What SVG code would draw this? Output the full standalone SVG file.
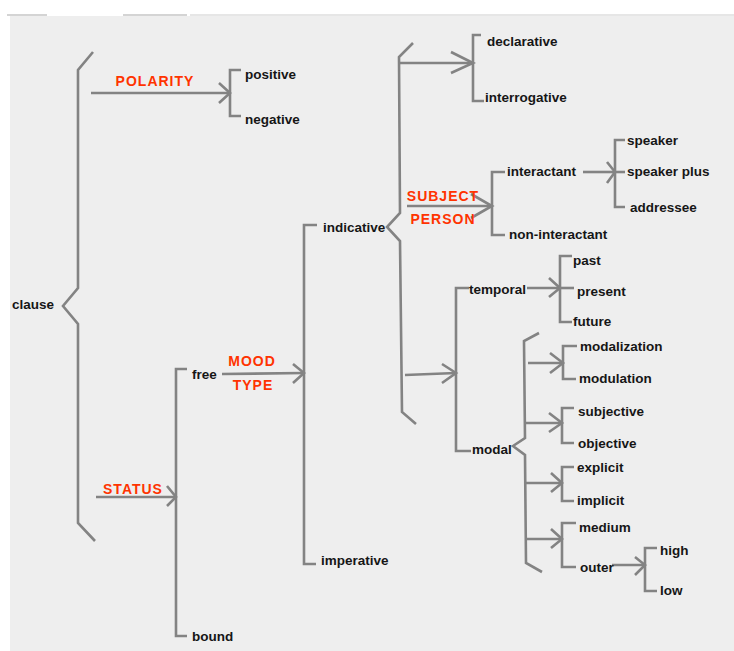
<svg xmlns="http://www.w3.org/2000/svg" width="734" height="651" viewBox="0 0 734 651">
<style>
.ln{fill:none;stroke:#838383;stroke-width:2.6;stroke-linejoin:miter;stroke-linecap:butt}
.t{font-family:"Liberation Sans",Arial,sans-serif;font-weight:bold;font-size:13.5px;fill:#161616}
.r{font-family:"Liberation Sans",Arial,sans-serif;font-weight:bold;font-size:14px;fill:#ff3300;letter-spacing:1px;text-anchor:middle}
</style>
<rect x="0" y="0" width="734" height="651" fill="#ffffff"/>
<rect x="10" y="16" width="724" height="635" fill="#eeeeee"/>
<rect x="7" y="14" width="40" height="2" fill="#d4d4d4"/>
<rect x="123" y="14" width="64" height="2" fill="#d4d4d4"/>
<rect x="190" y="14" width="544" height="2" fill="#e6e6e6"/>

<g id="connectors">
  <!-- clause brace -->
  <polyline class="ln" points="93,52 78,70 78,288 63,306 78,324 78,523 95,541"/>
  <!-- polarity -->
  <line class="ln" x1="91" y1="93" x2="230" y2="93"/>
  <polyline class="ln" points="219,83 230,93 219,103"/>
  <polyline class="ln" points="241,70 230,70 230,116 241,116"/>
  <!-- status -->
  <line class="ln" x1="96" y1="497" x2="176" y2="497"/>
  <polyline class="ln" points="167,486 176,497 167,506"/>
  <polyline class="ln" points="187,369 176,369 176,636 187,636"/>
  <!-- mood type -->
  <line class="ln" x1="222" y1="374" x2="304" y2="373"/>
  <polyline class="ln" points="293,364 304,373 293,383"/>
  <polyline class="ln" points="317,225 304,225 304,564 316,564"/>
  <!-- indicative brace -->
  <polyline class="ln" points="413,43 399,57 400,213 387,227 400,241 402,412 416,424"/>
  <!-- to declarative -->
  <line class="ln" x1="400" y1="63" x2="473" y2="63"/>
  <polyline class="ln" points="451,52 473,63 451,73"/>
  <polyline class="ln" points="481,35 473,35 473,101 484,101"/>
  <!-- subject person -->
  <line class="ln" x1="407" y1="206" x2="492" y2="206"/>
  <polyline class="ln" points="471,194 492,206 471,218"/>
  <polyline class="ln" points="505,172 492,172 492,235 505,235"/>
  <!-- interactant -->
  <line class="ln" x1="583" y1="172" x2="615" y2="172"/>
  <polyline class="ln" points="607,162 615,172 607,183"/>
  <polyline class="ln" points="625,140 615,140 615,207 625,207"/>
  <line class="ln" x1="615" y1="172" x2="625" y2="172"/>
  <!-- to temporal/modal -->
  <line class="ln" x1="405" y1="375" x2="456" y2="373"/>
  <polyline class="ln" points="442,364 456,373 442,383"/>
  <polyline class="ln" points="469,288 456,288 456,451 471,451"/>
  <!-- temporal -->
  <line class="ln" x1="527" y1="288" x2="560" y2="288"/>
  <polyline class="ln" points="549,278 560,288 549,297"/>
  <polyline class="ln" points="572,256 560,256 560,322 572,322"/>
  <line class="ln" x1="560" y1="288" x2="574" y2="288"/>
  <!-- modal brace -->
  <polyline class="ln" points="539,333 524,341 525,438 513,446 525,455 526,563 542,572"/>
  <!-- modalization -->
  <line class="ln" x1="528" y1="363" x2="563" y2="363"/>
  <polyline class="ln" points="550,353 563,363 550,373"/>
  <polyline class="ln" points="577,346 563,346 563,379 576,379"/>
  <!-- subjective -->
  <line class="ln" x1="525" y1="423" x2="562" y2="423"/>
  <polyline class="ln" points="549,413 562,423 549,432"/>
  <polyline class="ln" points="574,408 562,408 562,443 574,443"/>
  <!-- explicit -->
  <line class="ln" x1="526" y1="483" x2="562" y2="483"/>
  <polyline class="ln" points="551,473 562,483 551,492"/>
  <polyline class="ln" points="574,467 562,467 562,501 574,501"/>
  <!-- medium -->
  <line class="ln" x1="526" y1="539" x2="562" y2="539"/>
  <polyline class="ln" points="551,529 562,539 551,548"/>
  <polyline class="ln" points="576,523 562,523 562,567 576,567"/>
  <!-- outer -->
  <line class="ln" x1="612" y1="565" x2="645" y2="565"/>
  <polyline class="ln" points="635,557 645,565 635,575"/>
  <polyline class="ln" points="657,548 645,548 645,591 657,591"/>
</g>

<g id="labels">
  <text class="r" x="155" y="86">POLARITY</text>
  <text class="r" x="133" y="494">STATUS</text>
  <text class="r" x="252" y="366">MOOD</text>
  <text class="r" x="253" y="390">TYPE</text>
  <text class="r" x="443" y="201">SUBJECT</text>
  <text class="r" x="443" y="224">PERSON</text>
</g>

<g id="node-clause"><text class="t" x="12" y="309">clause</text></g>
<g id="node-positive"><text class="t" x="245" y="79">positive</text></g>
<g id="node-negative"><text class="t" x="245" y="124">negative</text></g>
<g id="node-free"><text class="t" x="192" y="379">free</text></g>
<g id="node-bound"><text class="t" x="192" y="641">bound</text></g>
<g id="node-indicative"><text class="t" x="323" y="232">indicative</text></g>
<g id="node-imperative"><text class="t" x="321" y="565">imperative</text></g>
<g id="node-declarative"><text class="t" x="487" y="46">declarative</text></g>
<g id="node-interrogative"><text class="t" x="485" y="102">interrogative</text></g>
<g id="node-interactant"><text class="t" x="507" y="176">interactant</text></g>
<g id="node-non-interactant"><text class="t" x="509" y="239">non-interactant</text></g>
<g id="node-speaker"><text class="t" x="627" y="145">speaker</text></g>
<g id="node-speaker-plus"><text class="t" x="627" y="176">speaker plus</text></g>
<g id="node-addressee"><text class="t" x="630" y="212">addressee</text></g>
<g id="node-temporal"><text class="t" x="469" y="294">temporal</text></g>
<g id="node-modal"><text class="t" x="472" y="454">modal</text></g>
<g id="node-past"><text class="t" x="573" y="265">past</text></g>
<g id="node-present"><text class="t" x="577" y="296">present</text></g>
<g id="node-future"><text class="t" x="573" y="326">future</text></g>
<g id="node-modalization"><text class="t" x="580" y="351">modalization</text></g>
<g id="node-modulation"><text class="t" x="579" y="383">modulation</text></g>
<g id="node-subjective"><text class="t" x="578" y="416">subjective</text></g>
<g id="node-objective"><text class="t" x="578" y="448">objective</text></g>
<g id="node-explicit"><text class="t" x="577" y="472">explicit</text></g>
<g id="node-implicit"><text class="t" x="577" y="505">implicit</text></g>
<g id="node-medium"><text class="t" x="579" y="532">medium</text></g>
<g id="node-outer"><text class="t" x="580" y="572">outer</text></g>
<g id="node-high"><text class="t" x="660" y="555">high</text></g>
<g id="node-low"><text class="t" x="660" y="595">low</text></g>
</svg>
